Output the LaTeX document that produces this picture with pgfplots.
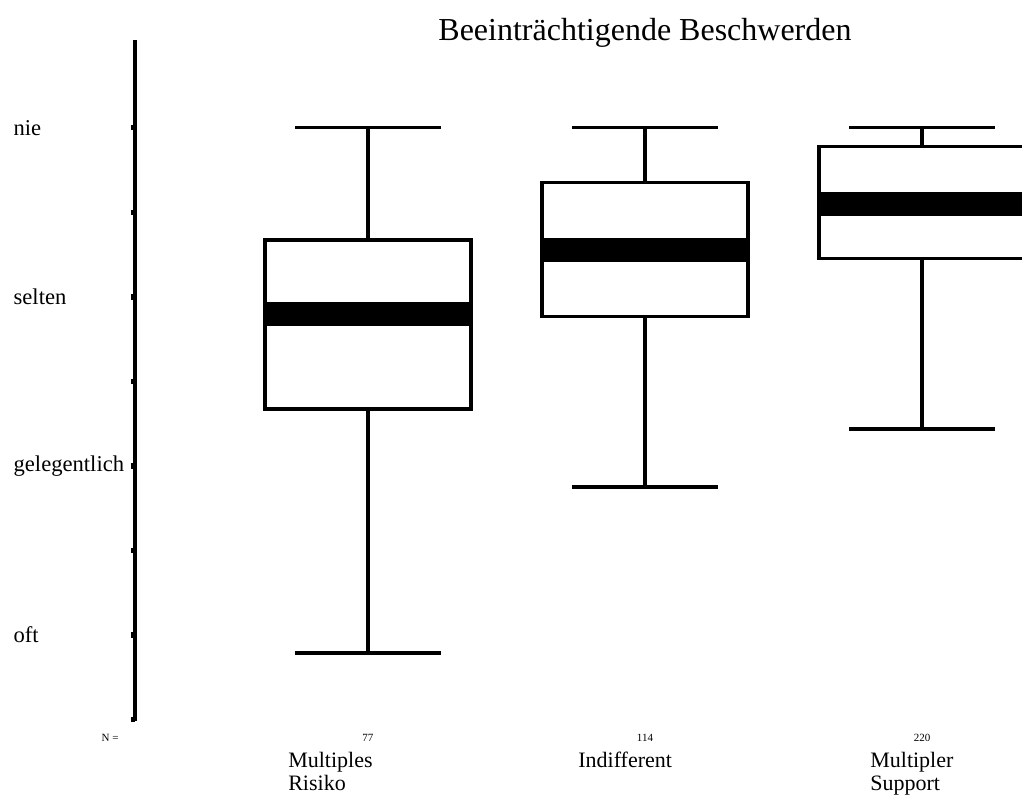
\documentclass[border=0pt]{standalone}
\usepackage{fontspec}
\setmainfont{Liberation Serif}
\usepackage{pgfplots}
\pgfplotsset{compat=1.18}
\usepgfplotslibrary{statistics}

\begin{document}
\begin{tikzpicture}
\begin{axis}[
    scale only axis,
    width=443.5pt, height=340.6pt,
    xmin=0.159, xmax=3.361,
    ymin=0.49, ymax=4.52,
    axis x line=none,
    axis y line=left,
    y axis line style={-, line width=2pt},
    ytick={0.5,1,...,4},
    yticklabels={,oft,,gelegentlich,,selten,,nie},
    tick align=outside,
    major tick length=2.2pt,
    ytick style={black, line width=2.6pt},
    yticklabel style={font=\fontsize{11.3}{13}\selectfont, anchor=west, xshift=-62pt},
    clip=false,
    boxplot/draw direction=y,
    boxplot/box extend=0.744,
    boxplot/whisker extend=0.527,
    boxplot/every median/.style={line width=12pt},
]
% Multiples Risiko
\addplot[black, line width=1.6pt, boxplot prepared={
    lower whisker=0.893, lower quartile=2.337, median=2.899,
    upper quartile=3.337, upper whisker=4.0, draw position=1}]
    coordinates {};
% Indifferent
\addplot[black, line width=1.6pt, boxplot prepared={
    lower whisker=1.876, lower quartile=2.882, median=3.278,
    upper quartile=3.675, upper whisker=4.0, draw position=2}]
    coordinates {};
% Multipler Support
\addplot[black, line width=1.6pt, boxplot prepared={
    lower whisker=2.219, lower quartile=3.225, median=3.550,
    upper quartile=3.888, upper whisker=4.0, draw position=3}]
    coordinates {};

\node[font=\fontsize{16}{18}\selectfont] at (axis cs:2,4.565) {Beeinträchtigende Beschwerden};

\node[font=\fontsize{5.5}{6}\selectfont] at (axis cs:0.069,0.39) {N =};
\node[font=\fontsize{5.5}{6}\selectfont] at (axis cs:1,0.39) {77};
\node[font=\fontsize{5.5}{6}\selectfont] at (axis cs:2,0.39) {114};
\node[font=\fontsize{5.5}{6}\selectfont] at (axis cs:3,0.39) {220};

\node[anchor=north west, inner sep=0pt, align=left, font=\fontsize{11}{11.5}\selectfont]
    at (axis cs:0.711,0.308) {Multiples\\Risiko};
\node[anchor=north west, inner sep=0pt, align=left, font=\fontsize{11}{11.5}\selectfont]
    at (axis cs:1.758,0.308) {Indifferent};
\node[anchor=north west, inner sep=0pt, align=left, font=\fontsize{11}{11.5}\selectfont]
    at (axis cs:2.812,0.308) {Multipler\\Support};
\end{axis}
\pgfresetboundingbox
\path[use as bounding box] ([xshift=-67.5pt, yshift=-42.4pt]current axis.south west)
    rectangle ([yshift=20pt]current axis.north east);
\end{tikzpicture}
\end{document}
